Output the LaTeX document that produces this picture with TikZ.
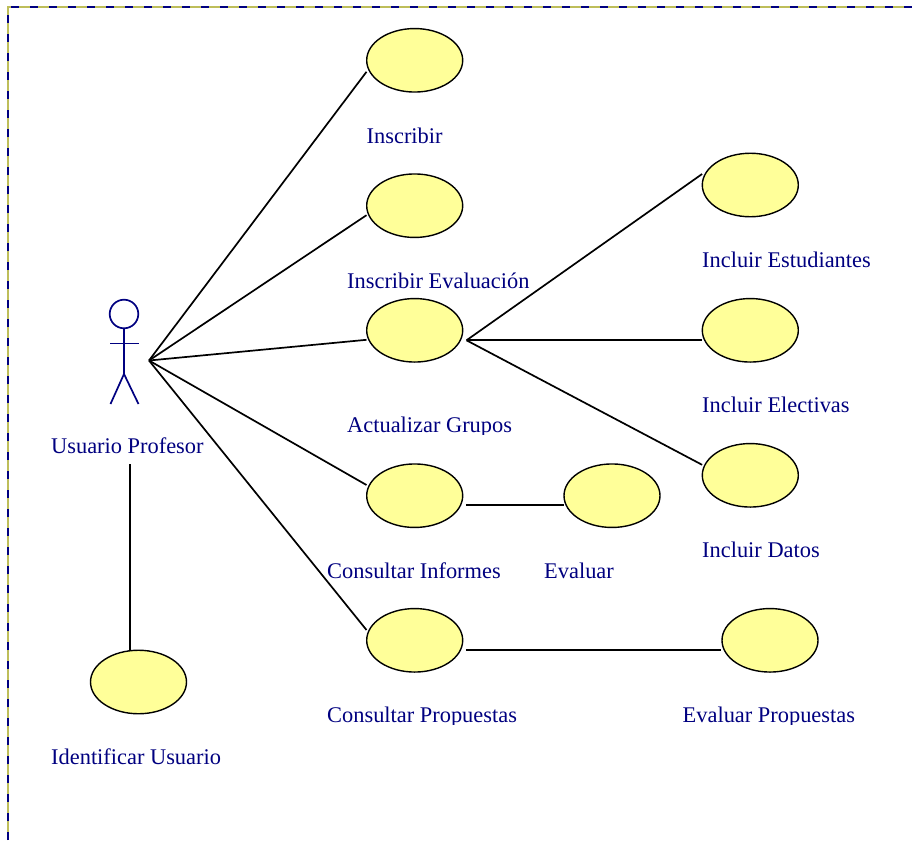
\documentclass[tikz,border=0pt]{standalone}
\usepackage{fontspec}
\setmainfont{Liberation Serif}
\usetikzlibrary{shapes.geometric,calc}
\definecolor{navytext}{RGB}{0,0,128}
\definecolor{ufill}{RGB}{255,255,153}
\definecolor{framebase}{RGB}{190,190,90}
\tikzset{
  usecase/.style={ellipse,draw=black,fill=ufill,line width=1.4pt,minimum width=96pt,minimum height=63.5pt,inner sep=0pt},
  uclabel/.style={anchor=base west,inner sep=0pt,text=navytext,font=\fontsize{22.4}{26}\selectfont},
  assoc/.style={draw=black,line width=1.7pt},
  stick/.style={draw=navytext,line width=1.7pt},
  framebg/.style={draw=framebase,line width=2pt},
  framefg/.style={draw=navytext,line width=2pt,dash pattern=on 8pt off 11pt}
}
\begin{document}
\begin{tikzpicture}[x=1pt,y=-1pt]
\useasboundingbox (0,0) rectangle (912,840);
\fill[white] (0,0) rectangle (912,840);
% frame: only the top and left edges are visible
\coordinate (fa) at (8,840);
\coordinate (fb) at (8,7);
\coordinate (fc) at (912,7);
\draw[framebg] (fa) -- (fb) -- (fc);
\draw[framefg] (fa) -- (fb) -- (fc);
% use cases
\node[usecase] (inscribir) at (414.7,60.3) {};
\node[usecase] (evaluacion) at (414.7,205.7) {};
\node[usecase] (grupos) at (414.7,330.3) {};
\node[usecase] (informes) at (414.7,495.7) {};
\node[usecase] (propuestas) at (414.7,640.3) {};
\node[usecase] (estudiantes) at (750.3,185) {};
\node[usecase] (electivas) at (750.3,330.3) {};
\node[usecase] (datos) at (750.3,475.3) {};
\node[usecase] (evaluar) at (612,495.7) {};
\node[usecase] (evalprop) at (770,640.3) {};
\node[usecase] (identificar) at (138.5,682) {};
% labels
\node[uclabel] (linscribir) at (366.5,143) {Inscribir};
\node[uclabel] (levaluacion) at (347,288) {Inscribir Evaluación};
\node[uclabel] (lestudiantes) at (702,267.5) {Incluir Estudiantes};
\node[uclabel] (lelectivas) at (702,412.5) {Incluir Electivas};
\node[uclabel] (ldatos) at (702,557.5) {Incluir Datos};
\node[uclabel] (linformes) at (327,578) {Consultar Informes};
\node[uclabel] (levaluar) at (544,578) {Evaluar};
\node[uclabel] (lactor) at (51,453.5) {Usuario Profesor};
\node[uclabel] (lidentificar) at (51,764) {Identificar Usuario};
\begin{scope}
\clip (300,400) rectangle (600,434);
\node[uclabel] (lgrupos) at (347,432.5) {Actualizar Grupos};
\end{scope}
\begin{scope}
\clip (300,690) rectangle (912,724);
\node[uclabel] (lpropuestas) at (327,722.5) {Consultar Propuestas};
\node[uclabel] (levalprop) at (682.5,722.5) {Evaluar Propuestas};
\end{scope}
% actor
\node[circle,stick,minimum size=28.6pt,inner sep=0pt] (head) at (124,314) {};
\coordinate (hip) at (124,374);
\coordinate (armL) at (110,343.5);
\coordinate (armR) at (138.5,343.5);
\coordinate (footL) at (110.5,404);
\coordinate (footR) at (138.5,404);
\draw[stick] (head.south) -- (hip);
\draw[stick] (armL) -- (armR);
\draw[stick] (footL) -- (hip) -- (footR);
% connectors stop on the west or east side of each use case's box
\coordinate (hand) at (149,360.5);
\coordinate (hub) at (466.5,340.3);
\draw[assoc] (hand) -- ($(inscribir.west)+(0.5,11.5)$);
\draw[assoc] (hand) -- ($(evaluacion.west)+(0.5,9.5)$);
\draw[assoc] (hand) -- ($(grupos.west)+(0.5,9.5)$);
\draw[assoc] (hand) -- ($(informes.west)+(0.5,-10.7)$);
\draw[assoc] (hand) -- ($(propuestas.west)+(0.5,-10.3)$);
\draw[assoc] (hub) -- ($(estudiantes.west)+(0.5,-11)$);
\draw[assoc] (hub) -- ($(electivas.west)+(0,10)$);
\draw[assoc] (hub) -- ($(datos.west)+(0.5,-10.5)$);
\draw[assoc] ($(informes.east)+(2.5,9.6)$) -- ($(evaluar.west)+(0.5,9.6)$);
\draw[assoc] ($(propuestas.east)+(2.5,10)$) -- ($(evalprop.west)+(0,10)$);
\coordinate (lineTop) at (130,464);
\draw[assoc] (lineTop) -- (lineTop |- identificar.north);
\end{tikzpicture}
\end{document}
